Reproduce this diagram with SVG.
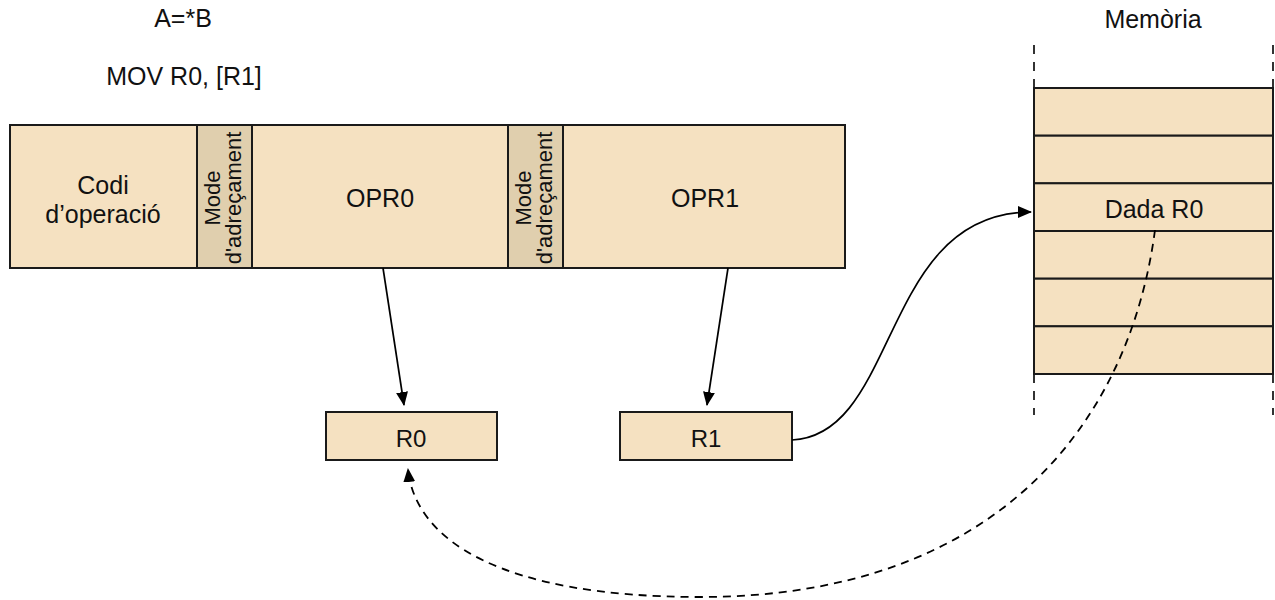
<svg xmlns="http://www.w3.org/2000/svg" width="1275" height="600" viewBox="0 0 1275 600">
  <style>
    text { font-family: "Liberation Sans", Arial, sans-serif; fill: #111; }
    .lbl { font-size: 25px; text-anchor: middle; }
    .reg { font-size: 24px; text-anchor: middle; }
    .vert { font-size: 22px; text-anchor: middle; }
    .cell { fill: #f5e1c1; stroke: #1a1a1a; stroke-width: 2; }
    .mode { fill: #e0cfae; stroke: #1a1a1a; stroke-width: 2; }
    .edge { fill: none; stroke: #000; stroke-width: 1.7; }
    .dash { stroke-dasharray: 8 6; stroke-width: 1.8; }
    .guide { stroke: #000; stroke-width: 1.6; stroke-dasharray: 9 8; }
  </style>
  <defs>
    <marker id="arrow" viewBox="0 0 14 12" refX="13" refY="6" markerWidth="14" markerHeight="12" markerUnits="userSpaceOnUse" orient="auto">
      <path d="M0,0 L14,6 L0,12 Z" fill="#000"/>
    </marker>
  </defs>

  <rect width="1275" height="600" fill="#fff"/>

  <!-- captions -->
  <text class="lbl" x="183" y="27">A=*B</text>
  <text class="lbl" x="184" y="85">MOV R0, [R1]</text>
  <text class="lbl" x="1153" y="28">Memòria</text>

  <!-- instruction format -->
  <g id="codi">
    <rect class="cell" x="10" y="125" width="187" height="143"/>
    <text class="lbl" x="103" y="194">Codi</text>
    <text class="lbl" x="103" y="223">d’operació</text>
  </g>
  <g id="mode0">
    <rect class="mode" x="197" y="125" width="55" height="143"/>
    <text class="vert" transform="translate(224,198) rotate(-90)"><tspan x="0" y="-4">Mode</tspan><tspan x="0" y="17">d'adreçament</tspan></text>
  </g>
  <g id="opr0">
    <rect class="cell" x="252" y="125" width="256" height="143"/>
    <text class="lbl" x="380" y="207">OPR0</text>
  </g>
  <g id="mode1">
    <rect class="mode" x="508" y="125" width="55" height="143"/>
    <text class="vert" transform="translate(535,198) rotate(-90)"><tspan x="0" y="-4">Mode</tspan><tspan x="0" y="17">d'adreçament</tspan></text>
  </g>
  <g id="opr1">
    <rect class="cell" x="563" y="125" width="282" height="143"/>
    <text class="lbl" x="705" y="207">OPR1</text>
  </g>

  <!-- registers -->
  <g id="r0">
    <rect class="cell" x="326" y="412" width="171" height="48"/>
    <text class="reg" x="411" y="447">R0</text>
  </g>
  <g id="r1">
    <rect class="cell" x="620" y="412" width="172" height="48"/>
    <text class="reg" x="706" y="447">R1</text>
  </g>

  <!-- memory -->
  <g id="memoria">
    <line class="guide" x1="1034" y1="45" x2="1034" y2="88"/>
    <line class="guide" x1="1273" y1="45" x2="1273" y2="88"/>
    <line class="guide" x1="1034" y1="374" x2="1034" y2="415"/>
    <line class="guide" x1="1273" y1="374" x2="1273" y2="415"/>
    <rect class="cell" x="1034" y="88" width="239" height="47.7"/>
    <rect class="cell" x="1034" y="135.7" width="239" height="47.7"/>
    <rect class="cell" x="1034" y="183.3" width="239" height="47.7"/>
    <rect class="cell" x="1034" y="231" width="239" height="47.7"/>
    <rect class="cell" x="1034" y="278.7" width="239" height="47.7"/>
    <rect class="cell" x="1034" y="326.3" width="239" height="47.7"/>
    <text class="lbl" x="1154" y="218">Dada R0</text>
  </g>

  <!-- connectors -->
  <g id="connectors">
    <line class="edge" x1="383" y1="268" x2="404" y2="405" marker-end="url(#arrow)"/>
    <line class="edge" x1="728" y1="268" x2="707" y2="405" marker-end="url(#arrow)"/>
    <path class="edge" d="M792,440 C900,435 880,212 1031,212" marker-end="url(#arrow)"/>
    <path class="edge dash" d="M1155,230 C1130,420 1000,597 700,597 C500,597 415,540 408,469" marker-end="url(#arrow)"/>
  </g>
</svg>
